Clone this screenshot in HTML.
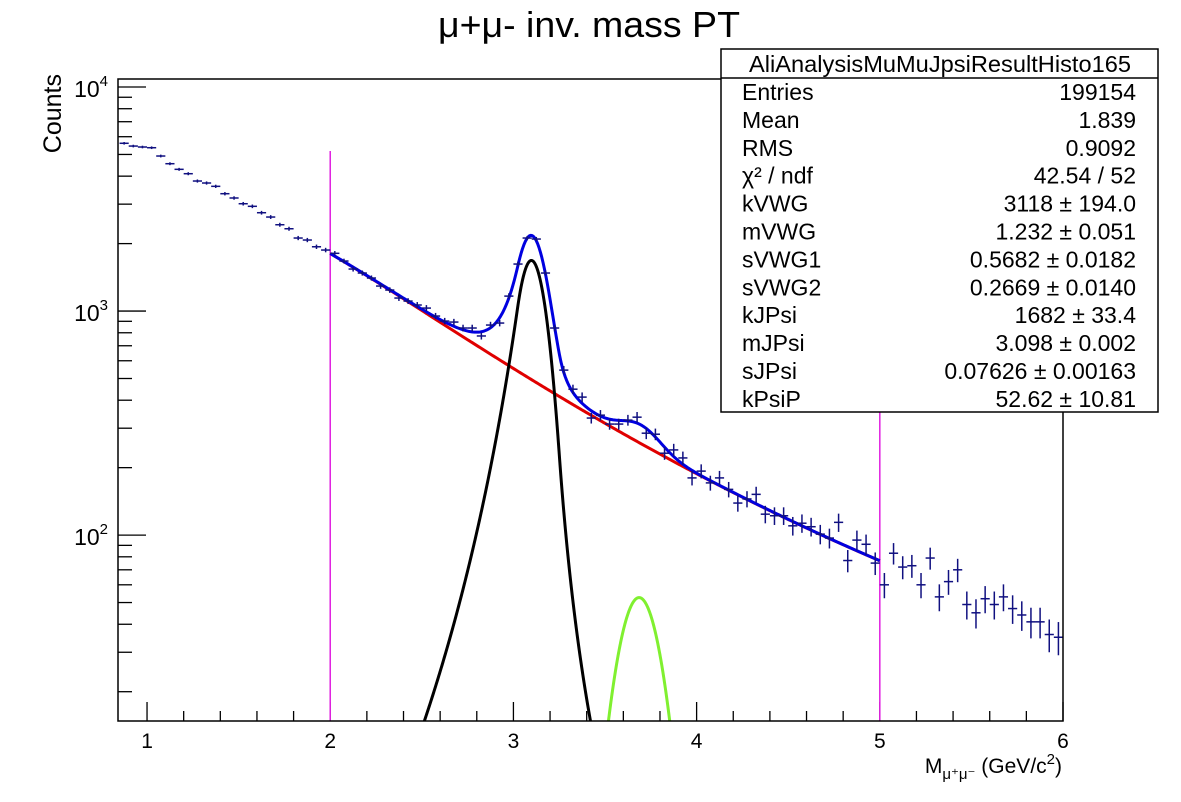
<!DOCTYPE html>
<html><head><meta charset="utf-8"><style>
html,body{margin:0;padding:0;background:#fff;overflow:hidden;width:1181px;height:802px;}
svg{display:block;font-family:"Liberation Sans",Arial,sans-serif;}
</style></head><body>
<svg id="chart" width="1181" height="802" viewBox="0 0 1181 802" xmlns="http://www.w3.org/2000/svg">
<defs><clipPath id="plotclip"><rect x="118" y="79" width="945" height="642"/></clipPath></defs>
<rect width="1181" height="802" fill="#fff"/>
<text x="589" y="37" font-size="36" text-anchor="middle" textLength="302" lengthAdjust="spacingAndGlyphs">μ+μ- inv. mass PT</text>
<g id="ticks"></g>
<g id="curves" clip-path="url(#plotclip)"></g>
<g id="points"></g>
<rect x="118" y="79" width="945" height="642" fill="none" stroke="#000" stroke-width="1.5"/>
<g id="xlabels" font-size="21" text-anchor="middle"></g>
<g id="ylabels" font-size="23" text-anchor="end"></g>
<text font-size="25" text-anchor="end" transform="translate(61,74) rotate(-90)">Counts</text>
<text x="1062" y="773" font-size="21" text-anchor="end">M<tspan font-size="15" dy="6">μ⁺μ⁻</tspan><tspan dy="-6"> (GeV/c</tspan><tspan font-size="15" dy="-9">2</tspan><tspan dy="9">)</tspan></text>
<g>
<rect x="721" y="49" width="437" height="363" fill="#fff" stroke="#000" stroke-width="1.5"/>
<line x1="721" y1="78" x2="1158" y2="78" stroke="#000" stroke-width="1.5"/>
<text x="940" y="72" font-size="23" text-anchor="middle" textLength="382" lengthAdjust="spacingAndGlyphs">AliAnalysisMuMuJpsiResultHisto165</text>
<g id="statrows" font-size="23"></g>
</g>
</svg>
<script>
// ---- data ----
const binCenters0 = 0.875, binWidth = 0.05;
const counts = [5608,5450,5397,5358,4920,4546,4291,4102,3805,3728,3603,3340,3196,3013,2934,2747,2628,2428,2330,2118,2075,1936,1872,1810,
1672,1540,1478,1404,1293,1241,1143,1108,1064,1031,950,902,893,840,840,774,866,
884,1166,1621,2118,2096,1478,840,545,448,413,333,343,313,313,326,336,285,282,232,240,221,180,
193,171,180,160,139,145,152,124,122,122,110,113,109,101,97,114,77,95,91,75,
60,83,72,73,60,79,53,62,70,49,45,52,49,53,47,44,41,41,36,35];
const xTickLabels = ["1","2","3","4","5","6"];
const yTickExps = [2,3,4];
const vwgParams = [3118, 1.232, 0.5682, 0.2669];   // kVWG, mVWG, sVWG1, sVWG2
const jpsiParams = [1682, 3.098, 0.07626];          // k, mean, sigma
const jpsiTails = [1.0, 5, 2.0, 3];                 // aL, nL, aR, nR
const psipParams = [52.62, 3.686, 0.105];
const fitRange = [2, 5];
const statLabels = ["Entries","Mean","RMS","χ² / ndf","kVWG","mVWG","sVWG1","sVWG2","kJPsi","mJPsi","sJPsi","kPsiP"];
const statValues = ["199154","1.839","0.9092","42.54 / 52","3118 ± 194.0","1.232 ± 0.051","0.5682 ± 0.0182","0.2669 ± 0.0140","1682 ± 33.4","3.098 ± 0.002","0.07626 ± 0.00163","52.62 ± 10.81"];

// ---- axes ----
const X0=118, X1=1063, Y0=79, Y1=721;
const xmin=0.8415, xmax=6.0;
const ymin=Math.log10(14.8), ymax=4+8/224;
const sx = v => X0 + (v-xmin)/(xmax-xmin)*(X1-X0);
const sy = v => Y1 - (Math.log10(v)-ymin)/(ymax-ymin)*(Y1-Y0);
const NS="http://www.w3.org/2000/svg";
function mk(tag, attrs, parent){const e=document.createElementNS(NS,tag);for(const k in attrs)e.setAttribute(k,attrs[k]);parent.appendChild(e);return e;}

const ticks=document.getElementById('ticks');
for(let i=0;i<=30;i++){const v=Math.round((0.8+i*0.2)*10)/10; if(v<xmin||v>xmax+1e-9)continue;
  const major=Math.abs(v-Math.round(v))<1e-6; const x=sx(v);
  const t=mk('line',{x1:x,x2:x,y1:Y1,y2:Y1-(major?19:10),stroke:'#000','stroke-width':1.3},ticks);
  
  }
for(let d=1;d<=4;d++){for(let m=1;m<=9;m++){const v=m*10**d; const l=Math.log10(v); if(l<ymin||l>ymax)continue;
  const y=sy(v);
  const t=mk('line',{x1:X0,x2:X0+(m===1?28:14),y1:y,y2:y,stroke:'#000','stroke-width':1.3},ticks);
  
  }}
const xl=document.getElementById('xlabels');
xTickLabels.forEach(s=>{const t=mk('text',{x:sx(+s),y:748},xl);t.textContent=s;
  
  });
const yl=document.getElementById('ylabels');
yTickExps.forEach(e=>{const y=sy(10**e);const t=mk('text',{x:108,y:y+10},yl);
  
  
  t.innerHTML='10<tspan font-size="15" dy="-11">'+e+'</tspan>';});

// ---- functions ----
function vwg(m){const [k,mu,s1,s2]=vwgParams;const s=s1+s2*(m-mu)/mu;const r=(m-mu)/s;return k*Math.exp(-0.5*r*r);}
function cb2(m,k,mu,s){const [aL,nL,aR,nR]=jpsiTails;const t=(m-mu)/s;
  if(t>=-aL&&t<=aR)return k*Math.exp(-0.5*t*t);
  const a=t<0?aL:aR,n=t<0?nL:nR,u=Math.abs(t);
  const A=Math.pow(n/a,n)*Math.exp(-0.5*a*a),B=n/a-a;return k*A*Math.pow(B+u,-n);}
function jpsi(m){return cb2(m,...jpsiParams);}
function psip(m){const [k,mu,s]=psipParams;const t=(m-mu)/s;return k*Math.exp(-0.5*t*t);}
function total(m){return vwg(m)+jpsi(m)+psip(m);}

const cg=document.getElementById('curves');
function curve(f,a,b,color,name){let d='';const N=400;for(let i=0;i<=N;i++){const m=a+(b-a)*i/N;let v=f(m);if(v<1)v=1;d+=(i?'L':'M')+sx(m).toFixed(2)+','+sy(v).toFixed(2);}
  const p=mk('path',{d:d,fill:'none',stroke:color,'stroke-width':3,'stroke-linejoin':'round'},cg);
  
  }
[fitRange[0],fitRange[1]].forEach(v=>{const l=mk('line',{x1:sx(v),x2:sx(v),y1:151,y2:Y1,stroke:'#e020e0','stroke-width':1.5},cg);
  
  });
curve(vwg,fitRange[0],fitRange[1],'#e00000','background-vwg-curve');
curve(jpsi,2.3,3.6,'#000','jpsi-curve');
curve(psip,3.3,4.1,'#80f030','psi2s-curve');
curve(total,fitRange[0],fitRange[1],'#0000e0','total-fit-curve');

// ---- points ----
const pg=document.getElementById('points');
counts.forEach((c,i)=>{const m=binCenters0+i*binWidth;const x=sx(m),y=sy(c);const e=Math.sqrt(c);
  const g=mk('g',{stroke:'#101080','stroke-width':1.5},pg);
  
  
  mk('line',{x1:sx(m-binWidth/2),x2:sx(m+binWidth/2),y1:y,y2:y},g);
  mk('line',{x1:x,x2:x,y1:sy(c+e),y2:sy(Math.max(c-e,1))},g);});

// ---- stats ----
const sr=document.getElementById('statrows');
statLabels.forEach((s,i)=>{const y=100+i*27.9;
  const a=mk('text',{x:742,y:y},sr);a.textContent=s;
  
  
  const b=mk('text',{x:1136,y:y,'text-anchor':'end'},sr);b.textContent=statValues[i];
  
  });
</script>
</body></html>
